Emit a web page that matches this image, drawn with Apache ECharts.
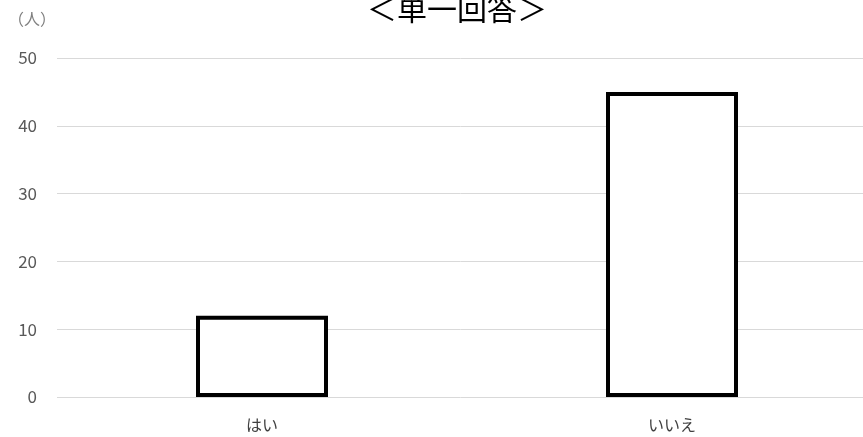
<!DOCTYPE html>
<html><head><meta charset="utf-8">
<script src="https://cdn.jsdelivr.net/npm/echarts@6/dist/echarts.min.js"></script>
<style>html,body{margin:0;padding:0;background:#fff}#c{width:863px;height:437px}</style>
</head><body><div id="c"></div>
<script>
const categories = ['はい', 'いいえ'];
const values = [12, 45];
const titleText = '＜単一回答＞';
const unitLabel = '（人）';
const font = '"Noto Sans CJK JP", "Noto Sans", sans-serif';
const chart = echarts.init(document.getElementById('c'), null, {renderer: 'canvas'});
chart.setOption({
  animation: false,
  backgroundColor: '#fff',
  title: {text: titleText, left: 452, textAlign: 'center', top: -11,
    textStyle: {fontFamily: font, fontSize: 30, fontWeight: 'normal', color: '#000'}},
  graphic: [{type: 'text', left: 8, top: 11,
    style: {text: unitLabel, font: '16px ' + font, fill: '#808080'}}],
  grid: {left: 57, top: 58, width: 820, height: 339, containLabel: false, outerBoundsMode: 'none'},
  xAxis: {type: 'category', data: categories,
    axisLine: {show: false}, axisTick: {show: false},
    axisLabel: {fontFamily: font, fontSize: 16, color: '#404040', margin: 20}},
  yAxis: {type: 'value', min: 0, max: 50, interval: 10,
    axisLine: {show: false}, axisTick: {show: false},
    splitLine: {lineStyle: {color: '#d9d9d9', width: 1}},
    axisLabel: {fontFamily: font, fontSize: 17, color: '#595959', margin: 20}},
  series: [{type: 'bar', data: values, barWidth: 132,
    itemStyle: {color: '#fff', borderColor: '#000', borderWidth: 4}}]
});
</script></body></html>
